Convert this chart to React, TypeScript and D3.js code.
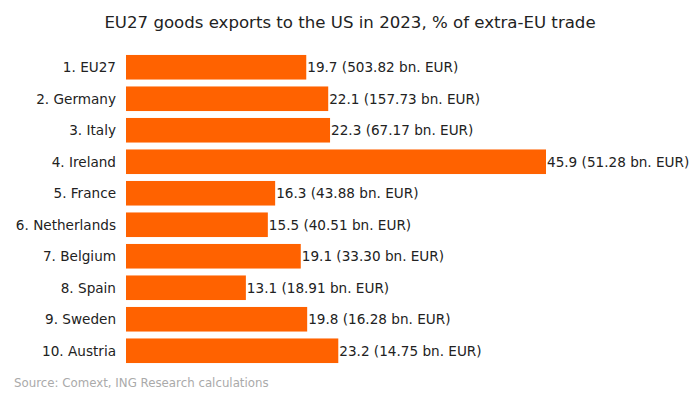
import * as d3 from 'd3';

const countries = ['1. EU27', '2. Germany', '3. Italy', '4. Ireland', '5. France', '6. Netherlands', '7. Belgium', '8. Spain', '9. Sweden', '10. Austria'];
const shares = [19.7, 22.1, 22.3, 45.9, 16.3, 15.5, 19.1, 13.1, 19.8, 23.2];
const values = ['503.82', '157.73', '67.17', '51.28', '43.88', '40.51', '33.30', '18.91', '16.28', '14.75'];

const W = 700;
const H = 394;
const FONT = 'DejaVu Sans, sans-serif';

export default function App() {
  const x = d3.scaleLinear().domain([0, 45.9]).range([126, 546]);
  const y = d3.scaleBand<string>().domain(countries).range([51.5, 366.5]).paddingInner(0.22).paddingOuter(0.11);

  return (
    <svg width={W} height={H} style={{ position: 'absolute', left: 0, top: 0, background: '#fff' }}>
      <text x={W / 2} y={28} textAnchor="middle" fontFamily={FONT} fontSize={16.6} fill="#222">
        EU27 goods exports to the US in 2023, % of extra-EU trade
      </text>
      {countries.map((c, i) => {
        const yy = y(c)!;
        const cy = yy + y.bandwidth() / 2;
        return (
          <g key={c}>
            <rect x={x(0)} y={yy} width={x(shares[i]) - x(0)} height={y.bandwidth()} fill="#ff6200" />
            <text x={116} y={cy} dy="0.36em" textAnchor="end" fontFamily={FONT} fontSize={13.6} fill="#222">
              {c}
            </text>
            <text x={x(shares[i]) + 1} y={cy} dy="0.36em" fontFamily={FONT} fontSize={13.6} fill="#222">
              {`${shares[i].toFixed(1)} (${values[i]} bn. EUR)`}
            </text>
          </g>
        );
      })}
      <text x={14} y={387} fontFamily={FONT} fontSize={11.8} fill="#aaa">
        Source: Comext, ING Research calculations
      </text>
    </svg>
  );
}
